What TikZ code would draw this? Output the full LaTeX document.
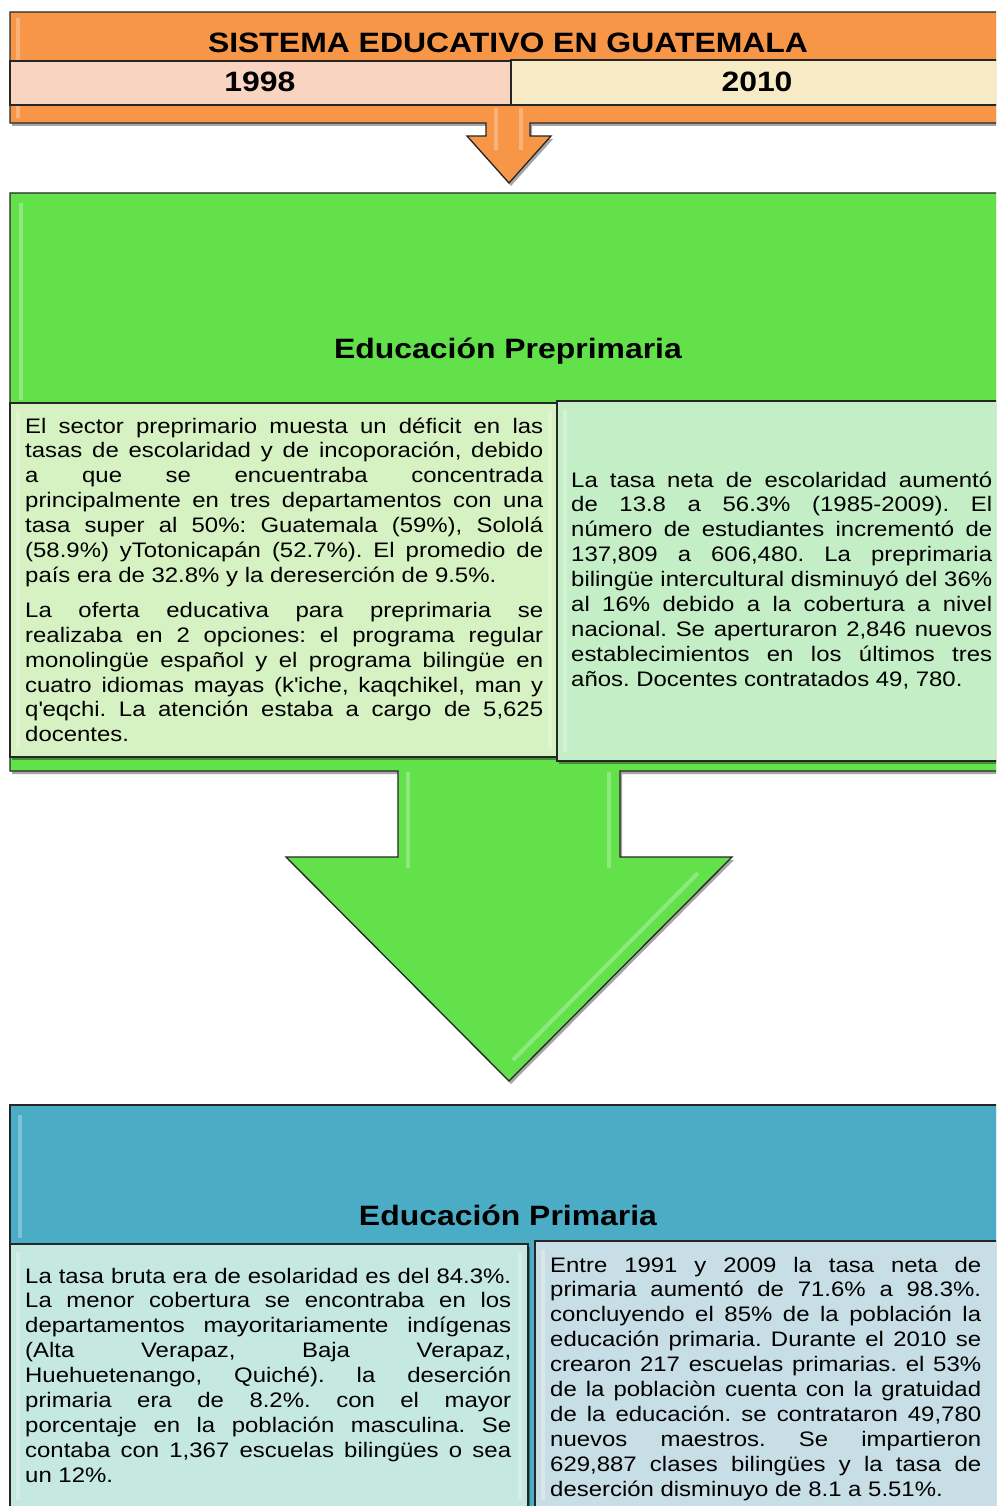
\documentclass[tikz,border=0pt]{standalone}
\usepackage{fontspec}
\setmainfont[FakeStretch=1.14]{Liberation Sans}
\usetikzlibrary{shadows}
\definecolor{orng}{RGB}{247,150,70}
\definecolor{peach}{RGB}{249,212,192}
\definecolor{cream}{RGB}{247,235,197}
\definecolor{grn}{RGB}{98,225,75}
\definecolor{lgA}{RGB}{214,242,194}
\definecolor{lgB}{RGB}{196,238,198}
\definecolor{blu}{RGB}{75,172,198}
\definecolor{lbA}{RGB}{197,232,224}
\definecolor{lbB}{RGB}{200,222,230}
\frenchspacing
\newcommand\jline[1]{\hbox to\hsize{\spaceskip=\fontdimen2\font plus 1fil minus .25\fontdimen2\font\relax #1}}
\newcommand\lline[1]{\hbox{#1}}
\newcommand\tblock[2]{\vtop{\hsize=#1\relax #2}}
\tikzset{
  shapeline/.style={draw=black!85, line width=1.3pt, line join=miter},
  shad/.style={drop shadow={shadow xshift=2pt, shadow yshift=-3pt, opacity=.35, fill=black}},
  body/.style={inner sep=0pt, anchor=base west, font=\fontsize{21}{24.9}\selectfont},
  ttl/.style={inner sep=0pt, anchor=base, font=\bfseries\fontsize{28}{30}\selectfont},
  hl/.style={draw=white, draw opacity=.28, line width=4pt},
}
\begin{document}
\begin{tikzpicture}[x=1pt,y=-1pt]
\useasboundingbox (0,0) rectangle (996,1506);
\clip (0,0) rectangle (996,1506);

% header with small arrow
\path[shapeline, fill=orng, shad] (10,12) -- (1010,12) -- (1010,123) -- (530,123) -- (530,136) -- (551,136) -- (509,183) -- (467,136) -- (486,136) -- (486,123) -- (10,123) -- cycle;
\draw[hl] (18,18) -- (18,118);
\draw[hl] (496,108) -- (496,150);
\draw[hl] (521,108) -- (521,150);
\path[shapeline, fill=peach] (10,61) rectangle (511,105);
\path[shapeline, fill=cream] (511,60) rectangle (1010,105);
\node[ttl] (title) at (508,53) {SISTEMA EDUCATIVO EN GUATEMALA};
\node[ttl] (y1) at (260,92) {1998};
\node[ttl] (y2) at (757,92) {2010};

% green section with big arrow
\path[shapeline, fill=grn, shad] (10,193) -- (1010,193) -- (1010,771) -- (620,771) -- (620,857) -- (732,857) -- (509,1081) -- (286,857) -- (398,857) -- (398,771) -- (10,771) -- cycle;
\draw[hl] (21,203) -- (21,400);
\draw[hl] (408,772) -- (408,868);
\draw[hl] (609,772) -- (609,868);
\draw[hl] (698,873) -- (513,1060);
\node[ttl] (pretitle) at (508,358) {Educación Preprimaria};
\path[shapeline, fill=lgA, shad] (10,403) rectangle (558,757);
\path[shapeline, fill=lgB, shad] (557,401) rectangle (1010,761);
\draw[hl] (18,412) -- (18,748);
\draw[hl] (550,412) -- (550,748);
\draw[hl] (565,410) -- (565,752);

\node[body] (preA) at (25,433) {\tblock{518pt}{%
\jline{El sector preprimario muesta un déficit en las}
\jline{tasas de escolaridad y de incoporación, debido}
\jline{a que se encuentraba concentrada}
\jline{principalmente en tres departamentos con una}
\jline{tasa super al 50\%: Guatemala (59\%), Sololá}
\jline{(58.9\%) yTotonicapán (52.7\%). El promedio de}
\lline{país era de 32.8\% y la dereserción de 9.5\%.}
\vskip 10pt
\jline{La oferta educativa para preprimaria se}
\jline{realizaba en 2 opciones: el programa regular}
\jline{monolingüe español y el programa bilingüe en}
\jline{cuatro idiomas mayas (k\textquotesingle iche, kaqchikel, man y}
\jline{q\textquotesingle eqchi. La atención estaba a cargo de 5,625}
\lline{docentes.}}};

\node[body] (preB) at (571,487) {\tblock{421pt}{%
\jline{La tasa neta de escolaridad aumentó}
\jline{de 13.8 a 56.3\% (1985-2009). El}
\jline{número de estudiantes incrementó de}
\jline{137,809 a 606,480. La preprimaria}
\jline{bilingüe intercultural disminuyó del 36\%}
\jline{al 16\% debido a la cobertura a nivel}
\jline{nacional. Se aperturaron 2,846 nuevos}
\jline{establecimientos en los últimos tres}
\lline{años. Docentes contratados 49, 780.}}};

% blue section
\path[shapeline, fill=blu, shad] (10,1105) rectangle (1010,1520);
\draw[hl] (20,1115) -- (20,1238);
\node[ttl] (primtitle) at (508,1225) {Educación Primaria};
\path[shapeline, fill=lbA, shad] (10,1244) rectangle (528,1520);
\path[shapeline, fill=lbB, shad] (535,1241) rectangle (1010,1520);
\draw[hl] (18,1252) -- (18,1500);
\draw[hl] (520,1252) -- (520,1500);
\draw[hl] (543,1250) -- (543,1500);

\node[body] (primA) at (25,1283) {\tblock{486pt}{%
\jline{La tasa bruta era de esolaridad es del 84.3\%.}
\jline{La menor cobertura se encontraba en los}
\jline{departamentos mayoritariamente indígenas}
\jline{(Alta Verapaz, Baja Verapaz,}
\jline{Huehuetenango, Quiché). la deserción}
\jline{primaria era de 8.2\%. con el mayor}
\jline{porcentaje en la población masculina. Se}
\jline{contaba con 1,367 escuelas bilingües o sea}
\lline{un 12\%.}}};

\node[body] (primB) at (550,1272) {\tblock{431pt}{%
\jline{Entre 1991 y 2009 la tasa neta de}
\jline{primaria aumentó de 71.6\% a 98.3\%.}
\jline{concluyendo el 85\% de la población la}
\jline{educación primaria. Durante el 2010 se}
\jline{crearon 217 escuelas primarias. el 53\%}
\jline{de la poblaciòn cuenta con la gratuidad}
\jline{de la educación. se contrataron 49,780}
\jline{nuevos maestros. Se impartieron}
\jline{629,887 clases bilingües y la tasa de}
\lline{deserción disminuyo de 8.1 a 5.51\%.}}};
\end{tikzpicture}
\end{document}
